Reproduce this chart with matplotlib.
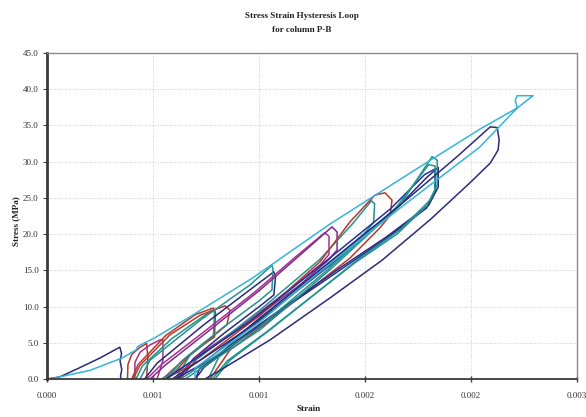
import matplotlib

matplotlib.use('Agg')
import matplotlib.pyplot as plt  # noqa: E402
import numpy as np  # noqa: E402

# strain values in microstrain, stress in MPa
navy1_strain = [0, 61, 150, 250, 344, 352, 345, 353, 347, 350]
navy1_stress = [0, 0.3, 1.5, 2.9, 4.4, 3.5, 2.5, 1.3, 0.4, 0]

cyan_strain = [28, 203, 354, 420, 428, 509, 675, 967, 1335, 1759, 2042, 2217, 2208, 2217, 2292,
               2217, 2040, 1665, 1241, 1005, 769, 698, 698]
cyan_stress = [0.1, 1.2, 2.9, 4.0, 4.5, 5.7, 8.6, 13.9, 21.4, 29.3, 34.5, 37.4, 38.5, 39.1, 39.1,
               37.4, 32.0, 23.6, 13.7, 7.9, 3.0, 1.5, 0]

navy_big_strain = [604, 722, 1005, 1335, 1665, 1934, 2090, 2123, 2132, 2127, 2090, 1995, 1807,
                   1580, 1335, 1052, 816, 745]
navy_big_stress = [0, 1.9, 8.4, 16.2, 24.0, 30.7, 34.8, 34.7, 33.0, 31.6, 29.8, 27.1, 22.0,
                   16.4, 11.2, 5.4, 1.2, 0]

teal30_strain = [651, 1005, 1335, 1665, 1816, 1840, 1840, 1807, 1665, 1462, 1288, 1052, 863, 792]
teal30_stress = [0, 6.8, 15.1, 24.0, 30.7, 30.2, 26.8, 24.7, 20.6, 16.4, 12.3, 6.8, 2.6, 0]

teal29_strain = [630, 990, 1320, 1650, 1800, 1830, 1828, 1790, 1650, 1450, 1275, 1040, 850, 780]
teal29_stress = [0, 6.9, 15.0, 23.8, 29.6, 29.4, 26.0, 23.9, 20.0, 16.0, 12.0, 6.6, 2.5, 0]

navy29_strain = [590, 980, 1330, 1640, 1790, 1845, 1845, 1800, 1600, 1380, 1150, 900, 720, 700]
navy29_stress = [0, 7.6, 15.6, 23.3, 27.8, 29.2, 26.5, 24.0, 19.6, 15.3, 10.6, 5.4, 1.4, 0]

blue29_strain = [560, 950, 1300, 1620, 1780, 1830, 1832, 1790, 1600, 1380, 1160, 920, 740, 700]
blue29_stress = [0, 7.8, 15.9, 23.5, 28.2, 29.0, 26.0, 23.6, 19.4, 15.0, 10.6, 5.6, 1.6, 0]

red26_strain = [557, 722, 1005, 1288, 1429, 1547, 1594, 1627, 1618, 1571, 1429, 1288, 1052,
                863, 769]
red26_stress = [0, 2.6, 8.8, 16.2, 21.7, 25.4, 25.7, 24.7, 22.6, 20.9, 16.7, 13.5, 8.1, 4.0, 0]

teal25_strain = [540, 720, 1000, 1290, 1440, 1530, 1545, 1540, 1500, 1400, 1230, 1000, 820, 760]
teal25_stress = [0, 3.0, 9.4, 16.6, 21.4, 24.6, 24.2, 21.6, 20.2, 17.6, 13.6, 8.4, 3.6, 0]

purple21_strain = [486, 557, 722, 1005, 1193, 1344, 1368, 1368, 1326, 1193, 958, 722, 627]
purple21_stress = [0, 1.9, 5.7, 12.3, 17.1, 21.0, 20.3, 17.8, 16.4, 13.0, 7.9, 3.3, 0]

magenta20_strain = [470, 540, 700, 980, 1170, 1310, 1330, 1330, 1290, 1150, 930, 700, 610]
magenta20_stress = [0, 2.0, 5.6, 12.0, 16.8, 20.2, 19.7, 17.2, 15.8, 12.5, 7.6, 3.0, 0]

teal15_strain = [439, 486, 722, 958, 1061, 1066, 1061, 1005, 816, 675, 604]
teal15_stress = [0, 2.6, 8.1, 13.0, 15.7, 15.2, 12.3, 10.9, 6.8, 3.3, 0]

navy15_strain = [460, 520, 740, 970, 1070, 1078, 1070, 1010, 830, 690, 620]
navy15_stress = [0, 2.2, 7.5, 12.6, 14.8, 14.2, 11.6, 10.2, 6.2, 2.8, 0]

red10_strain = [406, 439, 580, 722, 840, 863, 849, 792, 675, 571]
red10_stress = [0, 1.9, 6.1, 8.8, 10.1, 9.5, 7.5, 6.1, 3.3, 0]

teal10_strain = [420, 450, 590, 720, 780, 790, 785, 740, 640, 560]
teal10_stress = [0, 1.8, 5.6, 8.3, 9.5, 9.2, 6.0, 5.0, 2.6, 0]

maroon10_strain = [400, 430, 560, 700, 785, 795, 790, 750, 650, 545]
maroon10_stress = [0, 2.0, 6.0, 8.9, 9.8, 9.2, 5.8, 5.0, 2.8, 0]

magenta5_strain = [415, 415, 439, 486, 533, 547, 547, 533, 519]
magenta5_stress = [0, 2.3, 3.7, 4.7, 5.4, 5.4, 2.6, 1.2, 0]

red5_strain = [380, 382, 400, 440, 470, 476, 472, 470]
red5_stress = [0, 2.0, 3.4, 4.4, 4.9, 3.0, 1.0, 0]

x_ticks = [0.0, 0.0005, 0.001, 0.0015, 0.002, 0.0025]
y_ticks = [0, 5, 10, 15, 20, 25, 30, 35, 40, 45]

NAVY = '#2B2A7C'
CYAN = '#35B4D9'
TEAL = '#23938E'
RED = '#B8372C'
PURPLE = '#7A2C8C'
MAGENTA = '#A8308E'
BLUE = '#24309A'

curves = [
    (navy1_strain, navy1_stress, NAVY),
    (red5_strain, red5_stress, RED),
    (magenta5_strain, magenta5_stress, MAGENTA),
    (maroon10_strain, maroon10_stress, RED),
    (teal10_strain, teal10_stress, TEAL),
    (red10_strain, red10_stress, RED),
    (navy15_strain, navy15_stress, NAVY),
    (teal15_strain, teal15_stress, TEAL),
    (magenta20_strain, magenta20_stress, MAGENTA),
    (purple21_strain, purple21_stress, PURPLE),
    (teal25_strain, teal25_stress, TEAL),
    (red26_strain, red26_stress, RED),
    (blue29_strain, blue29_stress, BLUE),
    (navy29_strain, navy29_stress, NAVY),
    (teal29_strain, teal29_stress, TEAL),
    (teal30_strain, teal30_stress, TEAL),
    (navy_big_strain, navy_big_stress, NAVY),
    (cyan_strain, cyan_stress, CYAN),
]

SERIF = 'Liberation Serif'

figure = plt.figure(figsize=(5.86, 4.17), dpi=100)
axis = figure.add_axes([0.080, 0.091, 0.905, 0.782])

for strain, stress, color in curves:
    axis.plot(np.array(strain) * 1e-6, stress, color=color, linewidth=1.1)

axis.set_xlim(0, 0.0025)
axis.set_ylim(0, 45)
axis.set_xticks(x_ticks)
axis.set_xticklabels(['%.3f' % t for t in x_ticks], fontfamily=SERIF, fontsize=6.5, color='#333333')
axis.set_yticks(y_ticks)
axis.set_yticklabels(['%.1f' % t for t in y_ticks], fontfamily=SERIF, fontsize=6.5, color='#333333')
axis.tick_params(axis='x', direction='inout', length=4, width=1.0, color='#404040', pad=7)
axis.tick_params(axis='y', direction='out', length=3, width=0.8, color='#404040', pad=3)
axis.grid(True, color='#BBBBBB', linestyle=(0, (1, 2)), linewidth=0.6)
axis.set_axisbelow(True)

axis.spines['left'].set_color('#3A3A3A')
axis.spines['left'].set_linewidth(2.0)
axis.spines['bottom'].set_color('#3A3A3A')
axis.spines['bottom'].set_linewidth(1.3)
axis.spines['top'].set_color('#8A8A8A')
axis.spines['right'].set_color('#8A8A8A')
axis.spines['top'].set_linewidth(1.0)
axis.spines['right'].set_linewidth(1.0)

figure.text(0.515, 0.945, 'Stress Strain Hysteresis Loop\nfor column P-B', ha='center', va='center',
            fontfamily=SERIF, fontweight='bold', fontsize=6.6, linespacing=2.0, color='#222222')
figure.text(0.526, 0.020, 'Strain', ha='center', va='center',
            fontfamily=SERIF, fontweight='bold', fontsize=6.6, color='#222222')
figure.text(0.027, 0.47, 'Stress (MPa)', ha='center', va='center', rotation=90,
            fontfamily=SERIF, fontweight='bold', fontsize=6.6, color='#222222')

figure.savefig('out.png', dpi=100)
plt.close(figure)
